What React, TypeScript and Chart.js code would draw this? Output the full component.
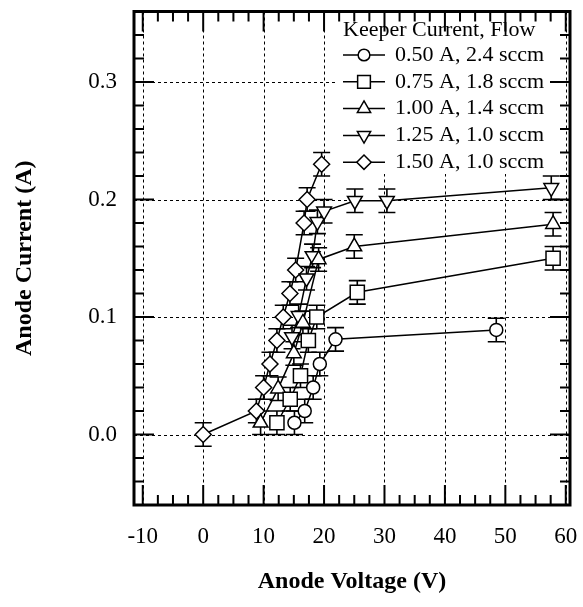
import React, { useEffect, useRef } from "react";
import { Chart, registerables } from "chart.js";

Chart.register(...registerables);

const legendTitle = "Keeper Current, Flow";
const seriesLabels = [
  "0.50 A, 2.4 sccm",
  "0.75 A, 1.8 sccm",
  "1.00 A, 1.4 sccm",
  "1.25 A, 1.0 sccm",
  "1.50 A, 1.0 sccm",
];

const circleV = [15.1, 16.8, 18.2, 19.3, 21.9, 48.5];
const circleI = [0.01, 0.02, 0.04, 0.06, 0.081, 0.089];

const squareV = [12.2, 14.4, 16.1, 17.4, 18.8, 25.5, 57.9];
const squareI = [0.01, 0.03, 0.05, 0.08, 0.1, 0.121, 0.15];

const triUpV = [9.5, 12.4, 15.0, 16.5, 19.1, 25.0, 57.9];
const triUpI = [0.01, 0.039, 0.069, 0.095, 0.149, 0.16, 0.179];

const triDownV = [14.7, 15.8, 17.1, 18.1, 18.9, 20.0, 25.1, 30.4, 57.6];
const triDownI = [0.083, 0.101, 0.133, 0.152, 0.181, 0.19, 0.199, 0.199, 0.21];

const diamondV = [0, 8.8, 10.0, 11.05, 12.2, 13.25, 14.35, 15.3, 16.7, 17.2, 19.6];
const diamondI = [0, 0.02, 0.04, 0.06, 0.08, 0.1, 0.12, 0.14, 0.18, 0.2, 0.23];

const errorI = 0.01;

const xTicks = [-10, 0, 10, 20, 30, 40, 50, 60];
const yTicks = [0, 0.1, 0.2, 0.3];
const xMinorStep = 2.5;
const yMinorStep = 0.02;
const xMin = -11.45;
const xMax = 60.7;
const yMin = -0.06;
const yMax = 0.36;

const serif = "'Liberation Serif', 'Times New Roman', serif";

const toPoints = (xs: number[], ys: number[]) => xs.map((x, i) => ({ x, y: ys[i] }));

type Shape = "circle" | "rect" | "triangle" | "triangleDown" | "rectRot";
const shapes: Shape[] = ["circle", "rect", "triangle", "triangleDown", "rectRot"];
const radii = [6.5, 10, 8.5, 8.5, 8];

function drawShape(ctx: CanvasRenderingContext2D, shape: Shape, x: number, y: number, r: number) {
  ctx.beginPath();
  if (shape === "circle") {
    ctx.arc(x, y, r, 0, Math.PI * 2);
  } else if (shape === "rect") {
    const s = r * Math.SQRT1_2;
    ctx.rect(x - s, y - s, 2 * s, 2 * s);
  } else if (shape === "rectRot") {
    ctx.moveTo(x, y - r);
    ctx.lineTo(x + r, y);
    ctx.lineTo(x, y + r);
    ctx.lineTo(x - r, y);
    ctx.closePath();
  } else {
    const dir = shape === "triangle" ? 1 : -1;
    const a0 = -Math.PI / 2;
    for (let k = 0; k < 3; k++) {
      const a = a0 + (k * 2 * Math.PI) / 3;
      const px = x + r * Math.cos(a);
      const py = y + dir * r * Math.sin(a);
      if (k === 0) ctx.moveTo(px, py);
      else ctx.lineTo(px, py);
    }
    ctx.closePath();
  }
  ctx.fillStyle = "#fff";
  ctx.fill();
  ctx.stroke();
}

const decorPlugin = {
  id: "decor",
  beforeDatasetsDraw(chart: any) {
    const { ctx, chartArea: a, scales } = chart;
    const xs = scales.x;
    const ys = scales.y;
    ctx.save();
    ctx.strokeStyle = "#000";
    ctx.lineWidth = 1;
    ctx.setLineDash([3, 3]);
    ctx.beginPath();
    for (const v of xTicks) {
      const px = Math.round(xs.getPixelForValue(v)) + 0.5;
      ctx.moveTo(px, a.top);
      ctx.lineTo(px, a.bottom);
    }
    for (const v of yTicks) {
      const py = Math.round(ys.getPixelForValue(v)) + 0.5;
      ctx.moveTo(a.left, py);
      ctx.lineTo(a.right, py);
    }
    ctx.stroke();
    ctx.setLineDash([]);
    // legend background
    ctx.fillStyle = "#fff";
    ctx.fillRect(338, 13, 214, 161);
    // error bars
    ctx.lineWidth = 1.6;
    const cap = 8.5;
    chart.data.datasets.forEach((ds: any) => {
      ds.data.forEach((p: any) => {
        const px = xs.getPixelForValue(p.x);
        const y1 = ys.getPixelForValue(p.y - errorI);
        const y2 = ys.getPixelForValue(p.y + errorI);
        ctx.beginPath();
        ctx.moveTo(px, y1);
        ctx.lineTo(px, y2);
        ctx.moveTo(px - cap, y1);
        ctx.lineTo(px + cap, y1);
        ctx.moveTo(px - cap, y2);
        ctx.lineTo(px + cap, y2);
        ctx.stroke();
      });
    });
    ctx.restore();
  },
  afterDatasetsDraw(chart: any) {
    const { ctx, chartArea: a, scales } = chart;
    const xs = scales.x;
    const ys = scales.y;
    ctx.save();
    ctx.strokeStyle = "#000";
    // ticks
    ctx.lineWidth = 2;
    ctx.beginPath();
    const nx = Math.round((xTicks[xTicks.length - 1] - xTicks[0]) / xMinorStep);
    for (let i = 0; i <= nx; i++) {
      const v = xTicks[0] + i * xMinorStep;
      const major = i % 4 === 0;
      const len = major ? 20 : 10;
      const px = xs.getPixelForValue(v);
      ctx.moveTo(px, a.bottom);
      ctx.lineTo(px, a.bottom - len);
      ctx.moveTo(px, a.top);
      ctx.lineTo(px, a.top + len);
    }
    const ny = Math.round((yMax - yMin) / yMinorStep);
    for (let i = 0; i <= ny; i++) {
      const v = yMin + i * yMinorStep;
      const major = Math.abs(Math.round(v * 10) - v * 10) < 1e-6;
      const len = major ? 20 : 10;
      const py = ys.getPixelForValue(v);
      ctx.moveTo(a.left, py);
      ctx.lineTo(a.left + len, py);
      ctx.moveTo(a.right, py);
      ctx.lineTo(a.right - len, py);
    }
    ctx.stroke();
    // frame
    ctx.lineWidth = 3;
    ctx.strokeRect(a.left, a.top, a.right - a.left, a.bottom - a.top);

    // legend
    ctx.fillStyle = "#000";
    ctx.font = `22px ${serif}`;
    ctx.textBaseline = "middle";
    ctx.textAlign = "left";
    ctx.fillText(legendTitle, 343, 30);
    ctx.lineWidth = 1.5;
    seriesLabels.forEach((lab, i) => {
      const y = 55 + i * 26.8;
      ctx.beginPath();
      ctx.moveTo(343, y);
      ctx.lineTo(385, y);
      ctx.stroke();
      drawShape(ctx, shapes[i], 364, y, radii[i] * 0.9);
      ctx.fillStyle = "#000";
      ctx.fillText(lab, 395, y);
    });
    ctx.restore();
  },
};

export default function App() {
  const ref = useRef<HTMLCanvasElement | null>(null);
  useEffect(() => {
    if (!ref.current) return;
    const series = [
      toPoints(circleV, circleI),
      toPoints(squareV, squareI),
      toPoints(triUpV, triUpI),
      toPoints(triDownV, triDownI),
      toPoints(diamondV, diamondI),
    ];
    const styles = ["circle", "rect", "triangle", "triangle", "rectRot"];
    const datasets = series.map((data, i) => ({
      label: seriesLabels[i],
      data,
      showLine: true,
      borderColor: "#000",
      borderWidth: 1.5,
      backgroundColor: "#fff",
      pointStyle: styles[i],
      pointRotation: i === 3 ? 180 : 0,
      pointRadius: radii[i],
      pointBorderWidth: 1.5,
      pointBorderColor: "#000",
      pointBackgroundColor: "#fff",
      tension: 0,
    }));
    const chart = new Chart(ref.current, {
      type: "scatter",
      data: { datasets },
      plugins: [decorPlugin],
      options: {
        animation: false,
        responsive: true,
        maintainAspectRatio: false,
        layout: { padding: { top: 10, right: 13, left: 0, bottom: 0 } },
        plugins: { legend: { display: false }, tooltip: { enabled: false } },
        scales: {
          x: {
            type: "linear",
            min: xMin,
            max: xMax,
            grid: { display: false },
            border: { display: false },
            afterBuildTicks: (s: any) => {
              s.ticks = xTicks.map((v) => ({ value: v }));
            },
            afterFit: (s: any) => {
              s.height = 102;
              s.paddingLeft = 0;
              s.paddingRight = 0;
            },
            ticks: {
              color: "#000",
              padding: 10,
              maxRotation: 0,
              autoSkip: false,
              font: { family: serif, size: 23 },
              callback: (v: any) => String(v),
            },
            title: {
              display: true,
              text: "Anode Voltage (V)",
              color: "#000",
              font: { family: serif, size: 24, weight: "bold" },
              padding: { top: 0, bottom: 10.6 },
            },
          },
          y: {
            type: "linear",
            min: yMin,
            max: yMax,
            grid: { display: false },
            border: { display: false },
            afterBuildTicks: (s: any) => {
              s.ticks = yTicks.map((v) => ({ value: v }));
            },
            afterFit: (s: any) => {
              s.width = 134;
              s.paddingTop = 0;
              s.paddingBottom = 0;
            },
            ticks: {
              color: "#000",
              padding: 9,
              autoSkip: false,
              font: { family: serif, size: 23 },
              callback: (v: any) => Number(v).toFixed(1),
            },
            title: {
              display: true,
              text: "Anode Current (A)",
              color: "#000",
              font: { family: serif, size: 24, weight: "bold" },
              padding: { top: 10.6, bottom: 0 },
            },
          },
        },
      },
    } as any);
    return () => chart.destroy();
  }, []);
  return (
    <div style={{ position: "absolute", left: 0, top: 0, width: 583, height: 607, background: "#fff" }}>
      <canvas ref={ref} />
    </div>
  );
}
